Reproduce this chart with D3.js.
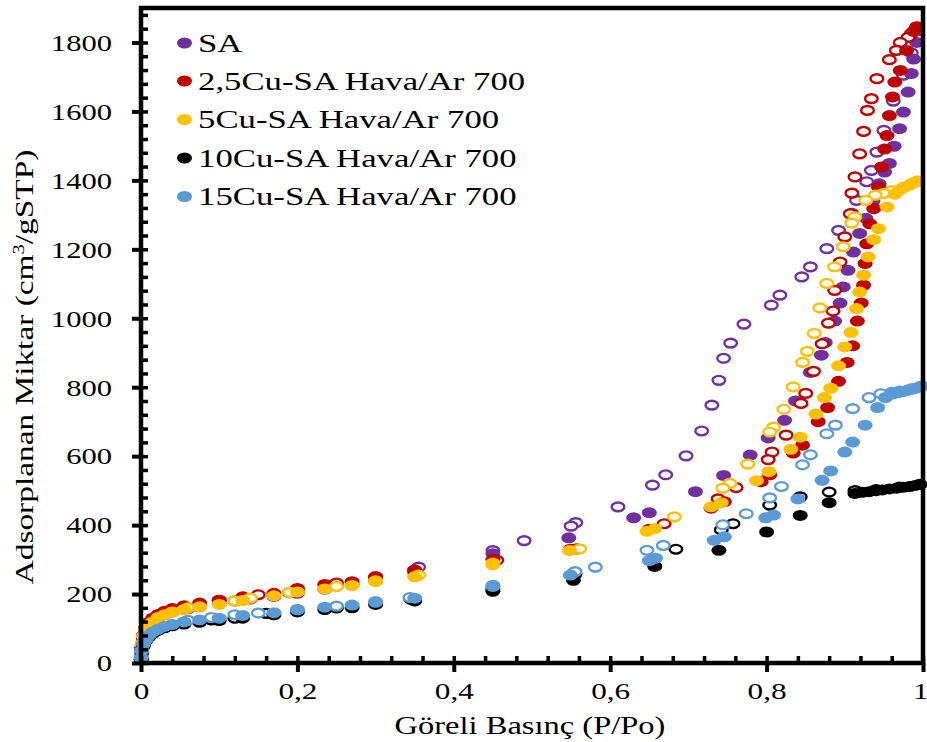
<!DOCTYPE html>
<html>
<head>
<meta charset="utf-8">
<script src="https://cdn.jsdelivr.net/npm/d3@7"></script>
<style>
  body { margin: 0; background: #fff; }
  svg { display: block; }
  text { font-family: "Liberation Serif", "Times New Roman", serif; fill: #000; }
</style>
</head>
<body>
<svg id="chart" width="927" height="742"></svg>
<script>
// Nitrogen isotherms: [relative pressure P/Po, adsorbed amount cm3/gSTP]
const seriesNames = ["SA", "2,5Cu-SA Hava/Ar 700", "5Cu-SA Hava/Ar 700", "10Cu-SA Hava/Ar 700", "15Cu-SA Hava/Ar 700"];
const seriesColors = ["#7030A0", "#C00000", "#FFC000", "#000000", "#5B9BD5"];

const pressureTicks = [0, 0.2, 0.4, 0.6, 0.8, 1];
const pressureTickLabels = ["0", "0,2", "0,4", "0,6", "0,8", "1"];
const amountTicks = [0, 200, 400, 600, 800, 1000, 1200, 1400, 1600, 1800];
const amountTickLabels = ["0", "200", "400", "600", "800", "1000", "1200", "1400", "1600", "1800"];

const saAds = [[0.0003, 15], [0.001, 40], [0.003, 70], [0.006, 92], [0.01, 108], [0.015, 120], [0.022, 131], [0.03, 140], [0.04, 148], [0.055, 156], [0.075, 163], [0.1, 172], [0.13, 183], [0.17, 193], [0.2, 202], [0.235, 214], [0.27, 226], [0.3, 238], [0.35, 262], [0.45, 317], [0.547, 363], [0.63, 421], [0.65, 436], [0.709, 497], [0.745, 544], [0.779, 603], [0.802, 653], [0.823, 704], [0.837, 760], [0.856, 843], [0.870, 893], [0.875, 930], [0.887, 992], [0.894, 1044], [0.898, 1091], [0.904, 1139], [0.911, 1192], [0.919, 1246], [0.927, 1290], [0.936, 1340], [0.944, 1390], [0.951, 1424], [0.957, 1449], [0.963, 1499], [0.970, 1550], [0.975, 1598], [0.981, 1656], [0.985, 1710], [0.988, 1752], [0.992, 1800]];
const saDes = [[0.992, 1812], [0.985, 1770], [0.975, 1705], [0.962, 1630], [0.950, 1545], [0.941, 1482], [0.934, 1429], [0.928, 1396], [0.915, 1342], [0.909, 1304], [0.892, 1255], [0.877, 1202], [0.856, 1149], [0.845, 1120], [0.817, 1067], [0.806, 1038], [0.771, 983], [0.754, 928], [0.745, 884], [0.739, 820], [0.730, 748], [0.717, 673], [0.697, 601], [0.671, 546], [0.654, 516], [0.610, 453], [0.556, 407], [0.550, 397], [0.49, 355], [0.45, 326], [0.355, 278], [0.30, 250], [0.25, 226], [0.19, 204], [0.14, 186], [0.12, 180], [0.06, 158]];

const cu25Ads = [[0.0002, 10], [0.001, 45], [0.003, 80], [0.006, 102], [0.01, 118], [0.015, 130], [0.022, 141], [0.03, 150], [0.04, 158], [0.055, 166], [0.075, 174], [0.1, 182], [0.13, 192], [0.17, 202], [0.2, 214], [0.235, 228], [0.27, 236], [0.3, 248], [0.35, 270], [0.45, 300], [0.549, 330], [0.65, 388], [0.729, 449], [0.746, 468], [0.793, 526], [0.804, 546], [0.834, 609], [0.846, 632], [0.866, 700], [0.878, 741], [0.892, 817], [0.903, 872], [0.910, 920], [0.916, 992], [0.921, 1044], [0.924, 1096], [0.926, 1159], [0.928, 1216], [0.932, 1274], [0.937, 1318], [0.943, 1381], [0.947, 1439], [0.951, 1491], [0.954, 1530], [0.957, 1588], [0.961, 1642], [0.964, 1685], [0.971, 1719], [0.979, 1777], [0.988, 1832], [0.992, 1845]];
const cu25Des = [[0.992, 1845], [0.985, 1825], [0.981, 1815], [0.971, 1800], [0.966, 1777], [0.957, 1750], [0.941, 1695], [0.934, 1637], [0.929, 1603], [0.924, 1542], [0.919, 1477], [0.913, 1410], [0.909, 1363], [0.907, 1303], [0.900, 1236], [0.894, 1163], [0.887, 1081], [0.885, 1021], [0.879, 986], [0.871, 926], [0.860, 846], [0.850, 782], [0.844, 753], [0.825, 661], [0.807, 612], [0.802, 590], [0.761, 509], [0.738, 476], [0.669, 404], [0.557, 331], [0.455, 298], [0.35, 268], [0.3, 250], [0.25, 232], [0.2, 216], [0.15, 198], [0.1, 182]];

const cu5Ads = [[0.0002, 20], [0.001, 55], [0.003, 78], [0.006, 96], [0.01, 108], [0.015, 120], [0.022, 132], [0.03, 140], [0.04, 148], [0.055, 155], [0.075, 163], [0.1, 170], [0.13, 181], [0.17, 195], [0.2, 206], [0.235, 215], [0.27, 225], [0.3, 236], [0.35, 250], [0.45, 285], [0.548, 326], [0.647, 382], [0.657, 390], [0.729, 453], [0.742, 465], [0.787, 529], [0.803, 555], [0.831, 620], [0.843, 655], [0.863, 722], [0.874, 770], [0.882, 797], [0.892, 862], [0.900, 917], [0.908, 959], [0.915, 1028], [0.919, 1076], [0.924, 1125], [0.930, 1178], [0.937, 1228], [0.943, 1260], [0.954, 1323], [0.964, 1360], [0.970, 1372], [0.976, 1380], [0.982, 1386], [0.988, 1393], [0.993, 1398]];
const cu5Des = [[0.993, 1398], [0.985, 1390], [0.975, 1380], [0.960, 1370], [0.950, 1362], [0.939, 1357], [0.927, 1342], [0.913, 1294], [0.909, 1276], [0.898, 1207], [0.887, 1149], [0.877, 1101], [0.868, 1030], [0.861, 956], [0.852, 904], [0.846, 872], [0.834, 801], [0.822, 736], [0.809, 684], [0.804, 670], [0.776, 577], [0.753, 521], [0.744, 507], [0.682, 424], [0.561, 331], [0.45, 290], [0.355, 255], [0.3, 238], [0.25, 222], [0.19, 205], [0.14, 188], [0.12, 180], [0.06, 160]];

const cu10Ads = [[0.0002, 10], [0.001, 30], [0.003, 50], [0.006, 65], [0.01, 76], [0.015, 86], [0.022, 95], [0.03, 102], [0.04, 108], [0.055, 113], [0.075, 118], [0.1, 123], [0.13, 130], [0.17, 140], [0.2, 148], [0.235, 155], [0.27, 160], [0.3, 170], [0.35, 180], [0.45, 208], [0.553, 240], [0.657, 280], [0.739, 327], [0.800, 380], [0.843, 428], [0.880, 465], [0.913, 492], [0.922, 495], [0.931, 497], [0.940, 500], [0.948, 502], [0.957, 505], [0.966, 507], [0.975, 510], [0.983, 512], [0.990, 515], [0.996, 518]];
const cu10Des = [[0.996, 518], [0.970, 510], [0.940, 503], [0.913, 500], [0.880, 496], [0.843, 482], [0.804, 458], [0.757, 404], [0.742, 386], [0.684, 330], [0.555, 258], [0.45, 215], [0.345, 185], [0.25, 160], [0.16, 144], [0.12, 130], [0.09, 125]];

const cu15Ads = [[0.0002, 15], [0.001, 35], [0.003, 55], [0.006, 68], [0.01, 80], [0.015, 90], [0.022, 98], [0.03, 106], [0.04, 112], [0.055, 119], [0.075, 125], [0.1, 130], [0.13, 138], [0.17, 146], [0.2, 155], [0.235, 162], [0.27, 168], [0.3, 176], [0.35, 188], [0.45, 222], [0.549, 255], [0.650, 297], [0.658, 304], [0.733, 356], [0.746, 366], [0.799, 421], [0.809, 429], [0.840, 476], [0.871, 530], [0.882, 557], [0.900, 612], [0.910, 641], [0.926, 690], [0.942, 741], [0.952, 770], [0.961, 780], [0.968, 784], [0.974, 787], [0.980, 791], [0.986, 794], [0.992, 798], [0.998, 803]];
const cu15Des = [[0.998, 803], [0.985, 795], [0.970, 789], [0.960, 785], [0.946, 781], [0.931, 770], [0.910, 738], [0.888, 690], [0.877, 665], [0.856, 604], [0.846, 575], [0.819, 512], [0.804, 479], [0.774, 433], [0.744, 401], [0.668, 341], [0.647, 327], [0.581, 278], [0.555, 265], [0.45, 225], [0.344, 190], [0.3, 178], [0.25, 165], [0.2, 155], [0.15, 145], [0.12, 140], [0.09, 132], [0.06, 124]];

const adsorption = [saAds, cu25Ads, cu5Ads, cu10Ads, cu15Ads];
const desorption = [saDes, cu25Des, cu5Des, cu10Des, cu15Des];

// ---- layout ----
const svg = d3.select("#chart");
const x = d3.scaleLinear().domain([0, 1]).range([141, 923]);
const y = d3.scaleLinear().domain([0, 1900]).range([663, 8]);

// widen text horizontally by factor k (keeps anchor)
function widen(sel, k) {
  sel.each(function () {
    const w = this.getComputedTextLength();
    d3.select(this).attr("textLength", w * k).attr("lengthAdjust", "spacingAndGlyphs");
  });
}

// ---- markers: open = desorption (drawn first), filled = adsorption ----
const plot = svg.append("g");
adsorption.forEach((pts, i) => {
  const g = plot.append("g");
  g.selectAll("ellipse.des").data(desorption[i]).join("ellipse")
    .attr("class", "des")
    .attr("cx", d => x(d[0])).attr("cy", d => y(d[1]))
    .attr("rx", 6.3).attr("ry", 4.4)
    .attr("fill", "#fff")
    .attr("stroke", seriesColors[i]).attr("stroke-width", 2.4);
  g.selectAll("ellipse.ads").data(pts).join("ellipse")
    .attr("class", "ads")
    .attr("cx", d => x(d[0])).attr("cy", d => y(d[1]))
    .attr("rx", 7.5).attr("ry", 5.5)
    .attr("fill", seriesColors[i]);
});

// ---- axes ----
const minorX = d3.range(0, 1.0001, 0.04);
const minorY = d3.range(0, 1881, 40);

const xAxis = svg.append("g").attr("transform", "translate(0,663)")
  .call(d3.axisBottom(x).tickValues(pressureTicks).tickSize(9).tickPadding(10)
    .tickFormat((d, i) => pressureTickLabels[i]));
xAxis.select(".domain").remove();
xAxis.selectAll(".tick line").attr("stroke-width", 4);
xAxis.selectAll(".tick text").attr("font-size", 24).attr("font-family", "Liberation Serif")
  .attr("dy", "0.71em").call(widen, 1.3);
xAxis.selectAll(".tick text").filter((d, i) => i === pressureTicks.length - 1)
  .attr("text-anchor", "end").attr("x", 5);

const xInner = svg.append("g").attr("transform", "translate(0,663)")
  .call(d3.axisTop(x).tickValues(minorX).tickSize(7).tickFormat(""));
xInner.select(".domain").remove();
xInner.selectAll(".tick line").attr("stroke-width", 3.5);

const yAxis = svg.append("g").attr("transform", "translate(141,0)")
  .call(d3.axisLeft(y).tickValues(amountTicks).tickSize(9).tickPadding(20)
    .tickFormat((d, i) => amountTickLabels[i]));
yAxis.select(".domain").remove();
yAxis.selectAll(".tick line").attr("stroke-width", 4);
yAxis.selectAll(".tick text").attr("font-size", 23).attr("font-family", "Liberation Serif")
  .attr("dy", "0.34em").call(widen, 1.33);

const yInner = svg.append("g").attr("transform", "translate(141,0)")
  .call(d3.axisRight(y).tickValues(minorY).tickSize(7).tickFormat(""));
yInner.select(".domain").remove();
yInner.selectAll(".tick line").attr("stroke-width", 3.5);

// plot frame
svg.append("rect")
  .attr("x", x(0)).attr("y", y(1900))
  .attr("width", x(1) - x(0)).attr("height", y(0) - y(1900))
  .attr("fill", "none").attr("stroke", "#000").attr("stroke-width", 4.5);

// ---- axis titles ----
const xTitle = svg.append("text")
  .attr("x", 530).attr("y", 734)
  .attr("text-anchor", "middle").attr("font-size", 26)
  .text("Göreli Basınç (P/Po)");
widen(xTitle, 1.25);

const yTitle = svg.append("text")
  .attr("text-anchor", "middle").attr("font-size", 26);
yTitle.append("tspan").text("Adsorplanan Miktar (cm");
yTitle.append("tspan").attr("font-size", 16).attr("dy", -9).text("3");
yTitle.append("tspan").attr("dy", 9).text("/gSTP)");
const yw = yTitle.node().getBBox().width;
yTitle.attr("transform", `translate(33,367) rotate(-90) scale(${435 / yw},1)`);

// ---- legend ----
const legendRows = [43, 81, 119.5, 158, 196.5];
const legend = svg.append("g");
seriesNames.forEach((name, i) => {
  legend.append("ellipse")
    .attr("cx", 184.5).attr("cy", legendRows[i])
    .attr("rx", 7.5).attr("ry", 5.5)
    .attr("fill", seriesColors[i]);
  const t = legend.append("text")
    .attr("x", 198).attr("y", legendRows[i] + 8.5)
    .attr("font-size", 25)
    .text(name);
  widen(t, 1.39);
});
</script>
</body>
</html>
